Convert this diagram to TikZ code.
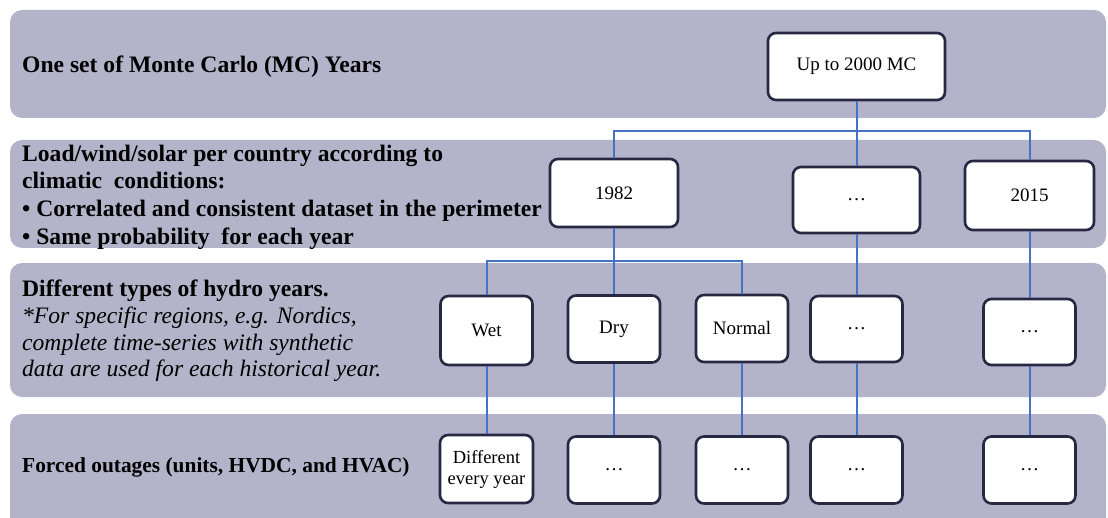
\documentclass[tikz,border=0pt]{standalone}
\usepackage{fontspec}
\setmainfont{Liberation Serif}
\definecolor{bandc}{RGB}{179,180,202}
\definecolor{boxc}{RGB}{40,40,68}
\definecolor{linec}{RGB}{68,114,196}
\tikzset{
  band/.style={fill=bandc, draw=none, rounded corners=12pt},
  yearbox/.style={draw=boxc, line width=2.6pt, fill=white, rounded corners=8pt, inner sep=1pt, align=center, font=\fontsize{19}{21}\selectfont},
  conn/.style={draw=linec, line width=2pt},
  lbl/.style={anchor=west, align=left, inner sep=0pt}
}
\begin{document}
\begin{tikzpicture}[x=1pt,y=-1pt]
\useasboundingbox (0,0) rectangle (1108,518);
% bands
\fill[band] (10,10) rectangle (1106,118);
\fill[band] (10,140) rectangle (1106,248);
\fill[band] (10,263) rectangle (1106,397);
\fill[band] (10,414) rectangle (1106,530);
% band labels
\node[lbl, font=\fontsize{23.6}{27}\bfseries] (t1) at (22,67) {One set of Monte Carlo (MC) Years};
\node[lbl, font=\fontsize{23.6}{27.6}\bfseries] (t2) at (22,197) {Load/wind/solar per country according to\\climatic\ \ conditions:\\• Correlated and consistent dataset in the perimeter\\• Same probability\ \ for each year};
\node[lbl, font=\fontsize{23.6}{26.7}\selectfont] (t3) at (22,331) {\textbf{Different types of hydro years.}\\\textit{*For specific regions, e.g. Nordics,}\\\textit{complete time-series with synthetic}\\\textit{data are used for each historical year.}};
\node[lbl, font=\fontsize{21.4}{26}\bfseries] (t4) at (22,467) {Forced outages (units,\ HVDC, and HVAC)};
% boxes row 1
\node[yearbox, minimum width=177, minimum height=67] (mc) at (856.5,66.5) {Up to 2000 MC};
% row 2
\node[yearbox, minimum width=128, minimum height=68] (y1982) at (614,193) {1982};
\node[yearbox, minimum width=127, minimum height=66] (ymid) at (856.5,200) {…};
\node[yearbox, minimum width=129, minimum height=69] (y2015) at (1029.5,195.5) {2015};
% row 3
\node[yearbox, minimum width=92, minimum height=69] (wet) at (486.5,330.5) {Wet};
\node[yearbox, minimum width=92, minimum height=67] (dry) at (614,329) {Dry};
\node[yearbox, minimum width=92, minimum height=67] (normal) at (742,328.5) {Normal};
\node[yearbox, minimum width=92, minimum height=66] (hmid) at (856.5,329) {…};
\node[yearbox, minimum width=92, minimum height=66] (h2015) at (1029.5,332) {…};
% row 4
\node[yearbox, minimum width=93, minimum height=68, font=\fontsize{18.5}{21}\selectfont] (fwet) at (486.5,469) {Different\\every year};
\node[yearbox, minimum width=92, minimum height=67] (fdry) at (614,470) {…};
\node[yearbox, minimum width=92, minimum height=67] (fnormal) at (742,470) {…};
\node[yearbox, minimum width=92, minimum height=67] (fmid) at (856.5,470) {…};
\node[yearbox, minimum width=92, minimum height=67] (f2015) at (1029.5,470) {…};
% connectors
\coordinate (j1) at (856.5,131);
\coordinate (j2) at (614,261);
\draw[conn] (mc.south) -- (ymid.north);
\draw[conn] (y1982.north) |- (j1) -| (y2015.north);
\draw[conn] (y1982.south) -- (dry.north);
\draw[conn] (wet.north) |- (j2) -| (normal.north);
\draw[conn] (ymid.south) -- (hmid.north);
\draw[conn] (y2015.south) -- (h2015.north);
\draw[conn] (wet.south) -- (fwet.north);
\draw[conn] (dry.south) -- (fdry.north);
\draw[conn] (normal.south) -- (fnormal.north);
\draw[conn] (hmid.south) -- (fmid.north);
\draw[conn] (h2015.south) -- (f2015.north);
\end{tikzpicture}
\end{document}
